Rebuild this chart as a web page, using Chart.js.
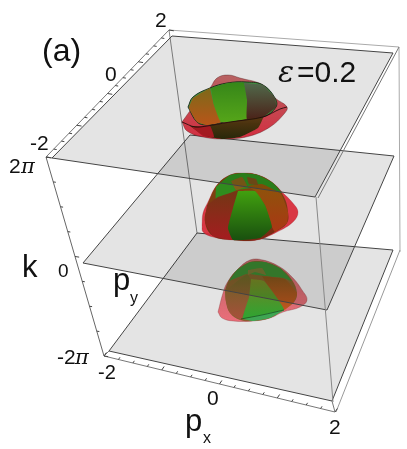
<!DOCTYPE html>
<html lang="en">
<head>
  <meta charset="UTF-8">
  <title>Spectrum surfaces</title>
  <script src="https://cdn.jsdelivr.net/npm/chart.js"></script>
  <style>
    body { margin: 0; background: #fff; }
    canvas { display: block; }
  </style>
</head>
<body>
  <canvas id="myChart" width="407" height="449"></canvas>

  <script>
    // projected outlines, [x, y]
    const planeLow = [[109,351],[197,233],[393,250],[332,401],[109,351]];
    const planeMid = [[83,263],[190,135],[394,156],[327,310],[83,263]];
    const planeTop = [[52,158],[172,36],[393,53],[315,197],[52,158]];

    const boxBack = [[169,30],[399,47],[400,252]];
    const boxBackPost = [[169,30],[197,233]];
    const boxFrontPost = [[316,197],[333,402]];
    const boxRimTop = [[399,47],[318,198]];
    const boxRimBottom = [[400,250],[336,412]];
    const boxRimCorner = [[46,157],[52,158]];
    const boxFootCorner = [[104,356],[109,351]];
    const boxFootFront = [[335,412],[332,401]];
    const edgePy = [[46,157],[169,30]];
    const edgeK = [[46,157],[104,356]];
    const edgePx = [[104,356],[335,412]];

    const pTicks = [-2,-1.75,-1.5,-1.25,-1,-0.75,-0.5,-0.25,0,0.25,0.5,0.75,1,1.25,1.5,1.75,2];
    const kTicks = [-4,-3,-2,-1,0,1,2,3,4];

    // lower surface
    const lowShell = [[218,312],[222,318],[233,321],[253,321],[270,318],[283,312],[300,307],[307,300],[302,290],[293,278],[280,267],[263,260],[250,260],[237,270],[227,283],[223,293],[218,312]];
    const lowDome = [[225,290],[229,280],[237,270],[250,262],[265,262],[280,268],[292,280],[297,293],[294,302],[283,310],[270,318],[253,321],[240,320],[230,313],[226,302],[225,290]];
    const lowCap = [[229,281],[237,270],[250,262],[265,262],[280,268],[292,281],[283,278],[265,276],[247,274],[229,281]];
    const lowLeft = [[225,291],[247,274],[252,282],[249,297],[241,319],[230,313],[226,302],[225,291]];
    const lowMiddle = [[251,279],[264,281],[284,310],[243,319],[249,297],[251,279]];
    const lowFoot = [[243,319],[284,310],[270,318],[253,321],[243,319]];
    const lowRight = [[262,276],[285,279],[297,293],[294,302],[284,310],[275,297],[262,276]];
    const lowPatch = [[248,270],[262,268],[266,275],[255,272],[248,275],[248,270]];

    // middle surface
    const midShell = [[202,225],[203,232],[213,237],[233,240],[257,240],[277,232],[293,222],[298,212],[292,202],[283,193],[273,183],[258,175],[243,173],[230,175],[217,185],[208,202],[203,213],[202,225]];
    const midDome = [[208,203],[217,185],[230,175],[243,173],[258,175],[273,183],[284,197],[288,212],[287,223],[275,232],[257,240],[233,240],[213,236],[205,222],[208,203]];
    const midCap = [[216,187],[230,175],[243,173],[258,175],[273,183],[282,193],[267,188],[252,188],[237,190],[216,200],[216,187]];
    const midLeft = [[207,205],[218,197],[238,191],[233,208],[228,228],[233,240],[213,236],[205,222],[207,205]];
    const midMiddle = [[238,191],[255,191],[265,205],[272,227],[260,238],[233,240],[228,228],[233,208],[238,191]];
    const midRight = [[247,186],[262,184],[281,194],[288,212],[287,223],[275,232],[272,227],[265,205],[255,191],[247,186]];
    const midPatchA = [[231,181],[242,177],[247,186],[236,190],[231,181]];
    const midPatchB = [[247,177],[256,179],[258,185],[249,184],[247,177]];

    // upper surface
    const topShell = [[182,122],[187,131],[203,137],[227,139],[250,136],[270,127],[284,114],[287,107],[275,98],[263,85],[240,78],[228,75],[217,78],[210,88],[193,107],[182,122]];
    const topDome = [[188,107],[193,97],[210,88],[227,83],[247,82],[263,85],[275,98],[276,107],[263,117],[230,121],[207,125],[197,122],[188,107]];
    const topWedgeOrange = [[210,88],[193,98],[189,108],[197,122],[207,125],[221,122],[214,105],[210,88]];
    const topWedgeGreen = [[211,88],[228,83],[244,83],[247,100],[247,119],[221,122],[214,105],[211,88]];
    const topWedgeDark = [[244,83],[263,85],[275,98],[276,107],[263,117],[247,119],[247,100],[244,83]];
    const topBowl = [[190,126],[207,126],[230,122],[263,117],[258,128],[240,137],[223,139],[205,136],[190,126]];
    const topLobe = [[192,127],[210,126],[214,137],[203,136],[192,127]];
    const topRim = [[182,122],[195,127],[207,126],[230,122],[263,117],[280,109],[287,107]];

    // label text, baseline-left anchor and size
    const labelText = ['(a)','=0.2','2','0','-2','2','0','k','p','-2','-2','0','2','p'];
    const labelAnchors = [[42,61],[297,82],[155,27],[105,81],[30,150],[9,173],[58,277],[22,277],[113,290],[57,364],[98,379],[207,405],[329,434],[185,431]];
    const labelSizes = [32,30,21,21,21,21,19,31,31,21,20,21,21,31];

    const canvas = document.getElementById('myChart');
    const c2d = canvas.getContext('2d');

    function grad(y0, y1, c0, c1) {
      const g = c2d.createLinearGradient(0, y0, 0, y1);
      g.addColorStop(0, c0);
      g.addColorStop(1, c1);
      return g;
    }

    function toPoints(list) {
      return list.map(p => p ? ({x: p[0], y: p[1]}) : ({x: null, y: null}));
    }

    // small strokes along an axis edge, gaps between them
    function tickMarks(edge, values, dx, dy) {
      const lo = values[0], hi = values[values.length - 1];
      const out = [];
      values.forEach((v, i) => {
        const t = (v - lo) / (hi - lo);
        const x = edge[0][0] + (edge[1][0] - edge[0][0]) * t;
        const y = edge[0][1] + (edge[1][1] - edge[0][1]) * t;
        const s = i % 4 === 0 ? 1.6 : 1;
        out.push([x, y], [x + dx * s, y + dy * s], null);
      });
      return out;
    }

    function shape(list, color, line, w, tension) {
      return {
        data: toPoints(list), showLine: true, fill: 'shape', backgroundColor: color,
        borderColor: line || 'rgba(0,0,0,0)', borderWidth: w || 0,
        tension: tension === undefined ? 0.4 : tension, pointRadius: 0, clip: false
      };
    }
    function wedge(list, color) {
      return shape(list, color, null, 0, 0.12);
    }
    function plane(list) {
      return {
        data: toPoints(list), showLine: true, fill: 'shape', backgroundColor: 'rgba(0,0,0,0.105)',
        borderColor: '#444', borderWidth: 1, tension: 0, pointRadius: 0, clip: false
      };
    }
    function stroke(list, color, w, tension) {
      return {
        data: toPoints(list), showLine: true, fill: false, borderColor: color,
        borderWidth: w || 1, tension: tension || 0, pointRadius: 0, clip: false
      };
    }

    // painter order, last one ends up on top
    const layers = [
      stroke(boxBack, '#aaa'),
      stroke(boxBackPost, '#888'),
      stroke(boxRimBottom, '#999'),
      plane(planeLow),
      stroke(boxFootCorner, '#777'),
      stroke(boxFootFront, '#777'),
      stroke(edgePx, '#777'),
      stroke(edgeK, '#666'),
      stroke(tickMarks(edgePx, pTicks, 1.5, -2.2), '#444'),
      stroke(tickMarks(edgeK, kTicks, 2.6, 0.4), '#444'),

      shape(lowShell, grad(260,321,'rgba(170,50,50,0.7)','rgba(235,80,95,0.8)'), 'rgba(120,40,40,0.5)', 0.6),
      shape(lowDome, grad(262,321,'rgba(110,90,30,0.9)','rgba(130,90,40,0.9)')),
      wedge(lowCap, 'rgba(55,135,50,0.95)'),
      wedge(lowLeft, grad(274,319,'rgba(100,100,35,0.95)','rgba(170,80,60,0.9)')),
      wedge(lowRight, grad(276,310,'rgba(125,80,25,0.97)','rgba(195,85,30,0.95)')),
      wedge(lowMiddle, grad(279,319,'rgba(115,130,35,1)','rgba(45,165,50,1)')),
      wedge(lowPatch, 'rgba(120,110,50,0.9)'),
      wedge(lowFoot, 'rgba(60,170,85,0.95)'),
      stroke([[241,319],[262,315],[284,310]], 'rgba(20,50,20,0.7)', 0.8, 0.3),

      plane(planeMid),
      stroke(boxFrontPost, '#888'),

      shape(midShell, 'rgba(215,35,50,0.9)', 'rgba(120,20,30,0.35)', 0.6),
      shape(midDome, grad(173,240,'rgba(130,75,15,1)','rgba(120,40,20,1)')),
      wedge(midCap, 'rgba(48,140,30,1)'),
      wedge(midLeft, grad(191,240,'rgba(115,55,20,1)','rgba(165,28,32,1)')),
      wedge(midRight, grad(184,232,'rgba(140,85,10,1)','rgba(170,55,20,1)')),
      wedge(midMiddle, grad(191,240,'rgba(65,160,15,1)','rgba(25,80,15,1)')),
      wedge(midPatchA, 'rgba(130,95,25,1)'),
      wedge(midPatchB, 'rgba(120,80,25,1)'),

      plane(planeTop),
      stroke(boxRimTop, '#777'),
      stroke(boxRimCorner, '#555'),
      stroke(edgePy, '#777'),
      stroke(tickMarks(edgePy, pTicks, 3, 0.5), '#444'),

      shape(topShell, grad(75,139,'rgba(175,75,75,0.85)','rgba(210,30,50,0.92)'), 'rgba(70,20,20,0.5)', 0.7),
      shape(topDome, 'rgba(55,150,60,0.95)', 'rgba(20,30,20,0.85)', 1),
      wedge(topWedgeOrange, grad(88,125,'rgba(125,105,25,1)','rgba(185,85,25,1)')),
      wedge(topWedgeGreen, grad(83,122,'rgba(55,135,25,1)','rgba(85,165,25,1)')),
      wedge(topWedgeDark, grad(83,119,'rgba(80,105,75,1)','rgba(75,35,25,1)')),
      wedge(topBowl, grad(117,139,'rgba(85,55,15,0.97)','rgba(40,40,10,1)')),
      wedge(topLobe, 'rgba(170,25,35,0.95)'),
      stroke(topRim, 'rgba(30,10,10,0.85)', 1, 0.3)
    ];

    const textLabels = {
      id: 'textLabels',
      afterDraw(chart) {
        const ctx = chart.ctx;
        const sx = chart.scales.x, sy = chart.scales.y;
        ctx.save();
        ctx.fillStyle = '#111';
        ctx.textBaseline = 'alphabetic';
        labelText.forEach((t, i) => {
          ctx.font = labelSizes[i] + 'px "Liberation Sans", Arial, sans-serif';
          ctx.fillText(t, sx.getPixelForValue(labelAnchors[i][0]), sy.getPixelForValue(labelAnchors[i][1]));
        });
        // pi signs, epsilon and the subscripts
        ctx.font = 'italic 21px "DejaVu Serif", serif';
        ctx.fillText('π', sx.getPixelForValue(21), sy.getPixelForValue(173));
        ctx.fillText('π', sx.getPixelForValue(75), sy.getPixelForValue(364));
        ctx.font = 'italic 30px "DejaVu Serif", serif';
        ctx.fillText('ε', sx.getPixelForValue(278), sy.getPixelForValue(82));
        ctx.font = '16px "Liberation Sans", Arial, sans-serif';
        ctx.fillText('y', sx.getPixelForValue(130), sy.getPixelForValue(303));
        ctx.fillText('x', sx.getPixelForValue(203), sy.getPixelForValue(443));
        ctx.restore();
      }
    };

    new Chart(canvas, {
      type: 'scatter',
      data: { datasets: layers.slice().reverse() },
      options: {
        responsive: false,
        animation: false,
        layout: { padding: 0 },
        plugins: { legend: { display: false }, tooltip: { enabled: false } },
        scales: {
          x: { type: 'linear', min: 0, max: 407, display: false },
          y: { type: 'linear', min: 0, max: 449, reverse: true, display: false }
        }
      },
      plugins: [textLabels]
    });
  </script>
</body>
</html>
